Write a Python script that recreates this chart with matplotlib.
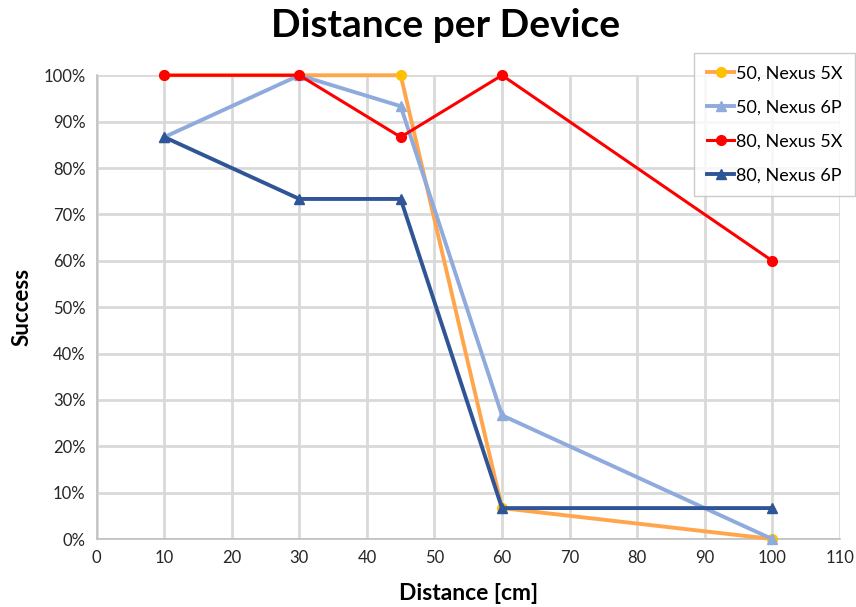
import matplotlib
matplotlib.use("Agg")
import matplotlib.pyplot as plt
from matplotlib.ticker import FuncFormatter, MultipleLocator

plt.rcParams['font.family'] = ['Lato', 'DejaVu Sans']

distance = [10, 30, 45, 60, 100]
s50_5x = [100, 100, 100, 6.67, 0]
s50_6p = [86.67, 100, 93.33, 26.67, 0]
s80_5x = [100, 100, 86.67, 100, 60]
s80_6p = [86.67, 73.33, 73.33, 6.67, 6.67]

series = [
    ("50, Nexus 5X", s50_5x, "#ffa64d", "#ffc000", "o", 2.8),
    ("50, Nexus 6P", s50_6p, "#8faadc", "#8faadc", "^", 2.8),
    ("80, Nexus 5X", s80_5x, "#ff0000", "#ff0000", "o", 2.2),
    ("80, Nexus 6P", s80_6p, "#2f5597", "#2f5597", "^", 2.8),
]

fig = plt.figure(figsize=(8.56, 6.07), dpi=100)
ax = fig.add_axes([0.113, 0.112, 0.868, 0.764])

for label, vals, lc, mc, mk, lw in series:
    ax.plot(distance, vals, color=lc, lw=lw, marker=mk, ms=7,
            markerfacecolor=mc, markeredgecolor=mc, label=label,
            clip_on=False, zorder=3)

ax.set_xlim(0, 110)
ax.set_ylim(0, 100)
ax.xaxis.set_major_locator(MultipleLocator(10))
ax.yaxis.set_major_locator(MultipleLocator(10))
ax.yaxis.set_major_formatter(FuncFormatter(lambda v, p: f"{v:.0f}%"))
ax.grid(True, color="#d9d9d9", lw=2)
ax.set_axisbelow(True)
for side in ("top", "right"):
    ax.spines[side].set_visible(False)
for side in ("left", "bottom"):
    ax.spines[side].set_color("#bfbfbf")
    ax.spines[side].set_linewidth(1.2)
ax.tick_params(length=0, labelsize=12, colors="#262626", pad=8)

fig.text(0.52, 0.958, "Distance per Device", fontsize=28, fontweight="bold",
         ha="center", va="center")
ax.set_xlabel("Distance [cm]", fontsize=16.5, fontweight="bold", labelpad=12)
ax.set_ylabel("Success", fontsize=16, fontweight="bold", labelpad=8)

leg = fig.legend(loc="upper right", bbox_to_anchor=(0.999, 0.913),
                 fontsize=13, frameon=True, fancybox=False,
                 handlelength=1.5, handletextpad=0.1, labelspacing=1.0,
                 borderpad=0.7, borderaxespad=0)
leg.get_frame().set_edgecolor("#bfbfbf")
leg.get_frame().set_linewidth(1.0)

fig.savefig("out.png", dpi=100)
